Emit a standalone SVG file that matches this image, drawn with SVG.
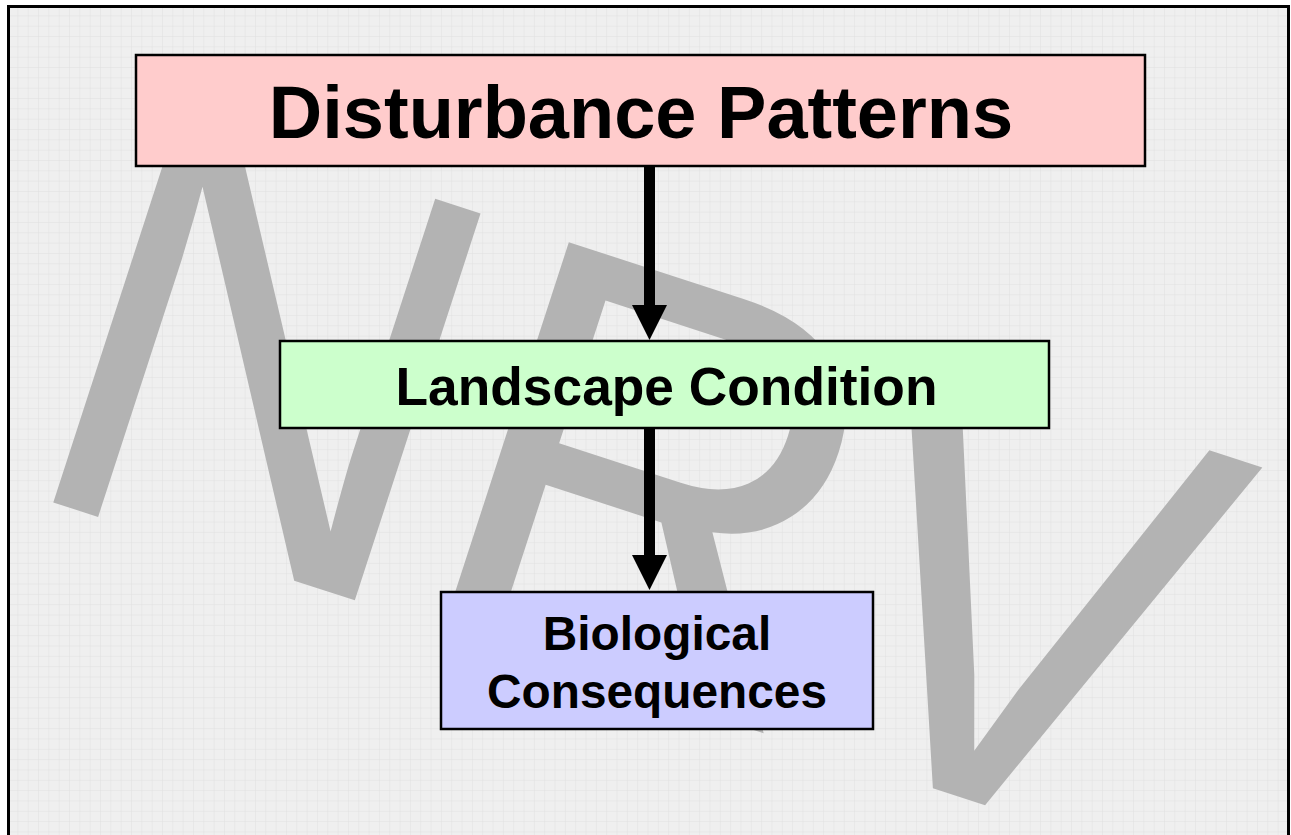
<svg xmlns="http://www.w3.org/2000/svg" width="1291" height="835" viewBox="0 0 1291 835">
  <defs>
    <pattern id="grid" x="8" y="6" width="10.33" height="10.33" patternUnits="userSpaceOnUse">
      <rect width="10.33" height="10.33" fill="#efefef"/>
      <path d="M10.33 0V10.33M0 10.33H10.33" stroke="#e0e0e0" stroke-width="1" fill="none"/>
    </pattern>
    <style>
      .box { stroke: #000; stroke-width: 2.5; }
      .lbl { font-family: "Liberation Sans", Arial, sans-serif; font-weight: bold; fill: #000; text-anchor: middle; }
      .conn { stroke: #000; stroke-width: 11; fill: none; }
      .head { fill: #000; }
      .wm { font-family: "Liberation Sans", Arial, sans-serif; fill: #b3b3b3; }
    </style>
  </defs>
  <rect x="0" y="0" width="1291" height="835" fill="#ffffff"/>
  <rect x="8.5" y="6.5" width="1280" height="840" fill="url(#grid)" stroke="#000" stroke-width="3"/>
  <text class="wm" font-size="562" transform="translate(9 488) rotate(18) scale(1.01 1.052)">NRV</text>

  <g id="node-disturbance">
    <rect class="box" x="136" y="55" width="1009" height="111" fill="#ffcccc"/>
    <text class="lbl" x="641" y="138" font-size="74">Disturbance Patterns</text>
  </g>
  <g id="node-landscape">
    <rect class="box" x="280" y="341" width="769" height="87" fill="#ccffcc"/>
    <text class="lbl" x="666.5" y="405" font-size="53.3">Landscape Condition</text>
  </g>
  <g id="node-biological">
    <rect class="box" x="441" y="592" width="432" height="137" fill="#ccccff"/>
    <text class="lbl" x="657" y="650" font-size="47.8">Biological</text>
    <text class="lbl" x="657" y="708" font-size="47.8">Consequences</text>
  </g>
  <g id="connectors">
    <line class="conn" x1="649.5" y1="167" x2="649.5" y2="307"/>
    <path class="head" d="M632 305L667 305L649.5 340Z"/>
    <line class="conn" x1="649.5" y1="429" x2="649.5" y2="557"/>
    <path class="head" d="M632 555L667 555L649.5 590Z"/>
  </g>
</svg>
